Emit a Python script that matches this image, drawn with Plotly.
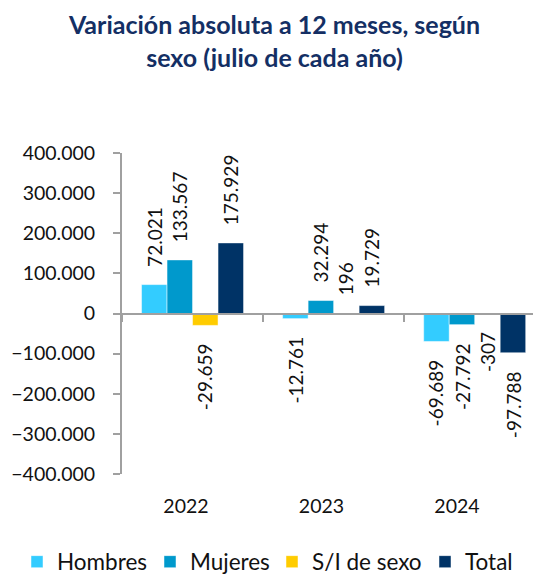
import plotly.graph_objects as go

years = ["2022", "2023", "2024"]
series_names = ["Hombres", "Mujeres", "S/I de sexo", "Total"]
hombres = [72021, -12761, -69689]
mujeres = [133567, 32294, -27792]
sin_info = [-29659, 196, -307]
total = [175929, 19729, -97788]
y_ticks = [-400000, -300000, -200000, -100000, 0, 100000, 200000, 300000, 400000]

colors = ["#33CCFF", "#0099CC", "#FFCC00", "#003366"]
values = [hombres, mujeres, sin_info, total]
legend_ids = ["legend", "legend2", "legend3", "legend4"]

# the page body adds an 8px margin; the figure is sized to fill the window
OFF = 8
W, H = 541 - OFF, 578 - OFF
legend_x = [17 - OFF, 150 - OFF, 272 - OFF, 425 - OFF]

FONT = "Lato"
TXT = "#111111"
AX = "#a0a0a0"
bargap = 0.277

fig = go.Figure()
for name, vals, col, lg in zip(series_names, values, colors, legend_ids):
    fig.add_trace(go.Bar(
        x=years, y=vals, name=name, legend=lg,
        marker=dict(color=col, line=dict(color="rgba(255,255,255,0.6)", width=0.8)),
        hoverinfo="skip",
    ))

# invisible trace for the label axis
fig.add_trace(go.Scatter(x=years, y=[0, 0, 0], xaxis="x2", yaxis="y",
                         mode="markers", marker=dict(opacity=0),
                         showlegend=False, hoverinfo="skip"))

def fmt(v):
    return f"{v:,}".replace(",", ".")

w = (1 - bargap) / len(series_names)
annotations = []
for i, vals in enumerate(values):
    for j, v in enumerate(vals):
        pos = v >= 0
        annotations.append(dict(
            x=j + (i - 1.5) * w, y=v, xref="x", yref="y",
            text=fmt(v), textangle=-90, showarrow=False,
            xanchor="center", yanchor="bottom" if pos else "top",
            yshift=16 if pos else -16,
            font=dict(family=FONT, size=19, color=TXT),
        ))

legends = {}
for lg, lx in zip(legend_ids, legend_x):
    legends[lg] = dict(
        orientation="h", xref="container", yref="container",
        x=lx / W, xanchor="left", y=(H - (562 - OFF)) / H, yanchor="middle",
        font=dict(family=FONT, size=22.5, color=TXT),
        itemwidth=30, bgcolor="rgba(0,0,0,0)",
    )

fig.update_layout(
    width=W, height=H,
    margin=dict(l=122 - OFF, r=0, t=153 - OFF, b=H - (474 - OFF), autoexpand=False),
    paper_bgcolor="white", plot_bgcolor="white",
    separators=",.",
    barmode="group", bargap=bargap, bargroupgap=0,
    font=dict(family=FONT, size=20, color=TXT),
    title=dict(
        text="<b>Variación absoluta a 12 meses, según<br>sexo (julio de cada año)</b>",
        x=0.5, xanchor="center", xref="container",
        y=1 - 26 / H, yanchor="top", yref="container",
        font=dict(family=FONT, size=25, color="#142F64"),
    ),
    xaxis=dict(
        type="category", categoryorder="array", categoryarray=years,
        range=[-0.5, 2.47], anchor="free", position=0.5,
        showline=True, linecolor=AX, linewidth=2,
        ticks="outside", tickson="boundaries", ticklen=7, tickcolor=AX, tickwidth=2,
        showticklabels=False, showgrid=False, zeroline=False, automargin=False,
    ),
    xaxis2=dict(
        type="category", categoryorder="array", categoryarray=years,
        overlaying="x", side="bottom", anchor="y",
        range=[-0.472, 2.62],
        showline=False, ticks="", showgrid=False, zeroline=False,
        ticklabelstandoff=18, automargin=False,
        tickfont=dict(family=FONT, size=19.5, color=TXT),
    ),
    yaxis=dict(
        range=[-400000, 400000], tickvals=y_ticks, tickformat=",d",
        showline=True, linecolor=AX, linewidth=2,
        ticks="outside", ticklen=7, tickcolor=AX, tickwidth=2,
        ticklabelstandoff=14,
        showgrid=False, zeroline=False, automargin=False,
        tickfont=dict(family=FONT, size=19.5, color=TXT),
    ),
    annotations=annotations,
    **legends,
)

fig.write_html("out.html")
